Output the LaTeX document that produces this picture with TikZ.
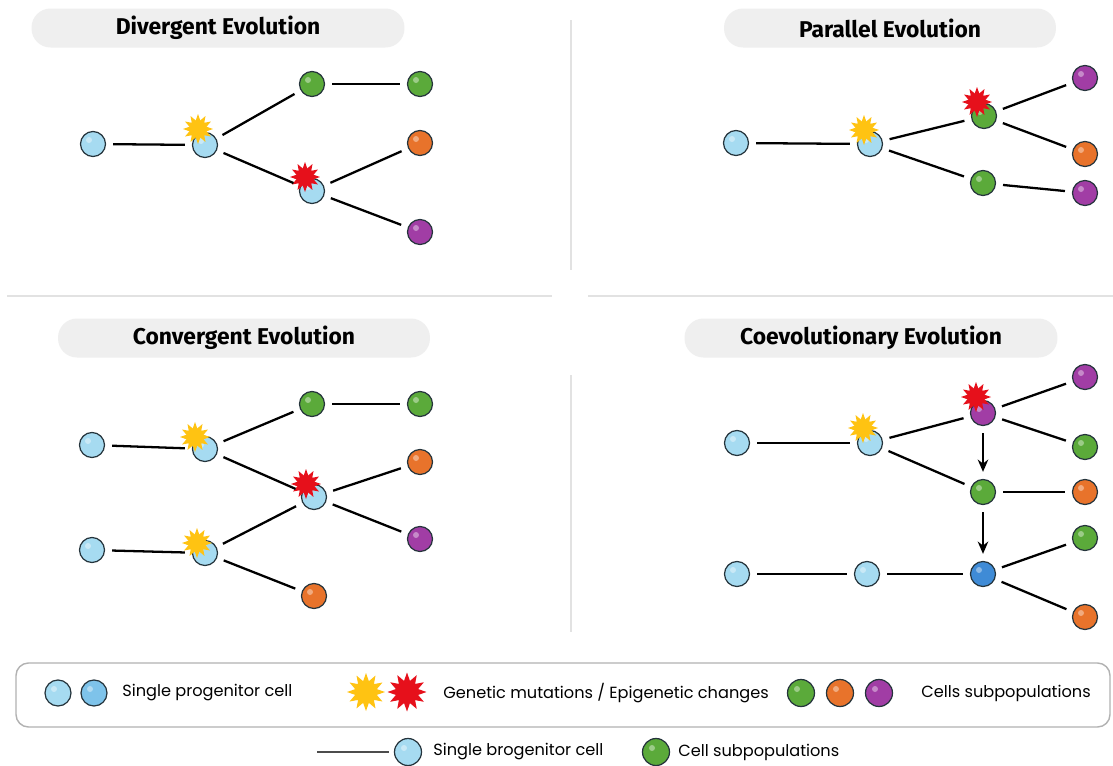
\documentclass[tikz,border=0pt]{standalone}
\usepackage{fontspec}
\setmainfont{Poppins}
\newfontfamily\headfont{Fira Sans}
\usetikzlibrary{shapes.geometric,arrows.meta,positioning}

\definecolor{cellblue}{HTML}{A6DBF1}
\definecolor{cellblue2}{HTML}{7EC3EA}
\definecolor{celldark}{HTML}{3F8BD6}
\definecolor{cellgreen}{HTML}{5BAA3A}
\definecolor{cellorange}{HTML}{E8732B}
\definecolor{cellpurple}{HTML}{A13DA5}
\definecolor{cellline}{HTML}{25343C}
\definecolor{mutyellow}{HTML}{FFC312}
\definecolor{mutred}{HTML}{E6101B}
\definecolor{pillgray}{HTML}{EFEFEF}
\definecolor{rulegray}{HTML}{E2E2E2}

\tikzstyle{cell}=[circle, draw=cellline, line width=0.7pt, minimum size=0.5cm, inner sep=0pt,
  path picture={\fill[white,opacity=.4] ([shift={(-0.08cm,0.08cm)}]path picture bounding box.center) circle (0.06cm);}]
\tikzstyle{progenitor}=[cell, fill=cellblue]
\tikzstyle{greencell}=[cell, fill=cellgreen]
\tikzstyle{orangecell}=[cell, fill=cellorange]
\tikzstyle{purplecell}=[cell, fill=cellpurple]
\tikzstyle{ystar}=[star, star points=12, star point ratio=1.7, fill=mutyellow, minimum size=0.6cm, inner sep=0pt]
\tikzstyle{rstar}=[star, star points=12, star point ratio=1.7, fill=mutred, minimum size=0.6cm, inner sep=0pt]
\tikzstyle{link}=[line width=1.3pt, shorten >=4pt, shorten <=4pt]
\tikzstyle{push}=[link, -{Stealth[length=7pt,width=6pt]}]
\tikzstyle{titlepill}=[rounded corners=0.38cm, fill=pillgray, minimum height=0.78cm,
  font=\headfont\bfseries\fontsize{13}{15}\selectfont]
\tikzstyle{legendtext}=[anchor=west, inner sep=0pt, font=\fontsize{9.2}{11}\selectfont]

\begin{document}
\begin{tikzpicture}[x=0.02cm, y=-0.02cm]
  \useasboundingbox[fill=white] (0,0) rectangle (1113,765);

  % panel rules
  \draw[rulegray, line width=0.8pt] (571,20) -- (571,270);
  \draw[rulegray, line width=0.8pt] (571,375) -- (571,632);
  \draw[rulegray, line width=1.6pt] (7,296) -- (552,296);
  \draw[rulegray, line width=1.6pt] (588,296) -- (1113,296);

  % titles
  \node[titlepill, minimum width=7.46cm] (t-div) at (218,28) {Divergent Evolution};
  \node[titlepill, minimum width=6.64cm] (t-par) at (890,28) {Parallel Evolution};
  \node[titlepill, minimum width=7.44cm] (t-con) at (244,338) {Convergent Evolution};
  \node[titlepill, minimum width=7.46cm] (t-coe) at (871,338) {Coevolutionary Evolution};

  % divergent
  \node[progenitor] (dv-a) at (93,144) {};
  \node[progenitor] (dv-b) at (205,145) {};
  \node[greencell] (dv-c) at (312,84) {};
  \node[greencell] (dv-d) at (420,84) {};
  \node[progenitor] (dv-e) at (312,191) {};
  \node[orangecell] (dv-f) at (420,143) {};
  \node[purplecell] (dv-g) at (420,232) {};
  \node[ystar] (dv-s1) at (198,129) {};
  \node[rstar] (dv-s2) at (305,177) {};
  \draw[link] (dv-a) -- (dv-b);
  \draw[link] (dv-b) -- (dv-c);
  \draw[link] (dv-c) -- (dv-d);
  \draw[link] (dv-b) -- (dv-e);
  \draw[link] (dv-e) -- (dv-f);
  \draw[link] (dv-e) -- (dv-g);

  % parallel
  \node[progenitor] (pl-a) at (736,143) {};
  \node[progenitor] (pl-b) at (870,144) {};
  \node[greencell] (pl-c) at (984,116) {};
  \node[purplecell] (pl-d) at (1085,78) {};
  \node[orangecell] (pl-e) at (1085,154) {};
  \node[greencell] (pl-f) at (983,183) {};
  \node[purplecell] (pl-g) at (1085,193) {};
  \node[ystar] (pl-s1) at (864,130) {};
  \node[rstar] (pl-s2) at (977,102) {};
  \draw[link] (pl-a) -- (pl-b);
  \draw[link] (pl-b) -- (pl-c);
  \draw[link] (pl-b) -- (pl-f);
  \draw[link] (pl-c) -- (pl-d);
  \draw[link] (pl-c) -- (pl-e);
  \draw[link] (pl-f) -- (pl-g);

  % convergent
  \node[progenitor] (cv-a) at (92,445) {};
  \node[progenitor] (cv-b) at (205,449) {};
  \node[greencell] (cv-c) at (312,404) {};
  \node[greencell] (cv-d) at (420,404) {};
  \node[progenitor] (cv-e) at (314,497) {};
  \node[orangecell] (cv-f) at (420,462) {};
  \node[purplecell] (cv-g) at (420,539) {};
  \node[progenitor] (cv-h) at (92,550) {};
  \node[progenitor] (cv-i) at (205,553) {};
  \node[orangecell] (cv-j) at (314,596) {};
  \node[ystar] (cv-s1) at (195,437) {};
  \node[rstar] (cv-s2) at (306,484) {};
  \node[ystar] (cv-s3) at (197,543) {};
  \draw[link] (cv-a) -- (cv-b);
  \draw[link] (cv-b) -- (cv-c);
  \draw[link] (cv-c) -- (cv-d);
  \draw[link] (cv-b) -- (cv-e);
  \draw[link] (cv-e) -- (cv-f);
  \draw[link] (cv-e) -- (cv-g);
  \draw[link] (cv-h) -- (cv-i);
  \draw[link] (cv-i) -- (cv-e);
  \draw[link] (cv-i) -- (cv-j);

  % coevolutionary
  \node[progenitor] (co-a) at (737,443) {};
  \node[progenitor] (co-b) at (870,443) {};
  \node[purplecell] (co-c) at (983,413) {};
  \node[purplecell] (co-d) at (1085,377) {};
  \node[greencell] (co-e) at (1085,447) {};
  \node[greencell] (co-f) at (983,492) {};
  \node[orangecell] (co-g) at (1085,492) {};
  \node[greencell] (co-h) at (1085,538) {};
  \node[cell, fill=celldark] (co-i) at (983,574) {};
  \node[progenitor] (co-j) at (737,574) {};
  \node[progenitor] (co-k) at (867,574) {};
  \node[orangecell] (co-l) at (1085,617) {};
  \node[ystar] (co-s1) at (863,428) {};
  \node[rstar] (co-s2) at (976,397) {};
  \draw[link] (co-a) -- (co-b);
  \draw[link] (co-b) -- (co-c);
  \draw[link] (co-b) -- (co-f);
  \draw[link] (co-c) -- (co-d);
  \draw[link] (co-c) -- (co-e);
  \draw[link] (co-f) -- (co-g);
  \draw[link] (co-j) -- (co-k);
  \draw[link] (co-k) -- (co-i);
  \draw[link] (co-i) -- (co-h);
  \draw[link] (co-i) -- (co-l);
  \draw[push] (co-c) -- (co-f);
  \draw[push] (co-f) -- (co-i);

  % legend
  \draw[draw=black!30, line width=0.8pt, rounded corners=0.25cm] (16,663) rectangle (1110,727);
  \node[progenitor, minimum size=0.52cm] (lg-1) at (58,693) {};
  \node[cell, fill=cellblue2, minimum size=0.52cm] (lg-2) at (94,693) {};
  \node[legendtext] (lg-t1) at (122,693) {Single progenitor cell};
  \node[ystar, minimum size=0.76cm] (lg-s1) at (366,692) {};
  \node[rstar, minimum size=0.78cm] (lg-s2) at (407,692) {};
  \node[legendtext] (lg-t2) at (443,693) {Genetic mutations / Epigenetic changes};
  \node[greencell, minimum size=0.54cm] (lg-g) at (801,693) {};
  \node[orangecell, minimum size=0.54cm] (lg-o) at (840,693) {};
  \node[purplecell, minimum size=0.54cm] (lg-p) at (879,693) {};
  \node[legendtext] (lg-t3) at (921,693) {Cells subpopulations};

  \coordinate (bt-l) at (317,752);
  \node[progenitor, minimum size=0.54cm] (bt-1) at (408,752) {};
  \draw[line width=1.2pt, black!70, shorten >=3pt] (bt-l) -- (bt-1.west);
  \node[legendtext] (bt-t1) at (433,752) {Single brogenitor cell};
  \node[greencell, minimum size=0.54cm] (bt-2) at (656,752) {};
  \node[legendtext] (bt-t2) at (678,752) {Cell subpopulations};
\end{tikzpicture}
\end{document}
